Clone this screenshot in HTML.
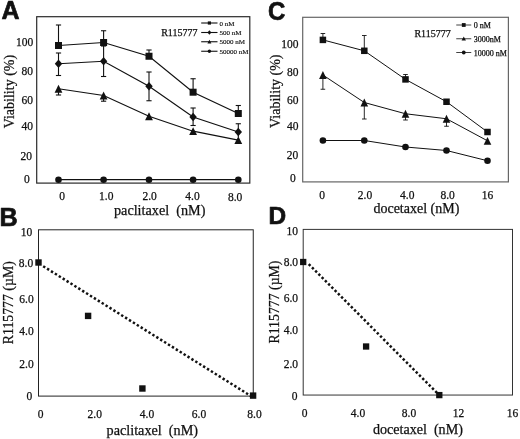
<!DOCTYPE html>
<html><head><meta charset="utf-8"><title>Figure</title>
<style>html,body{margin:0;padding:0;background:#fff;}svg{display:block;filter:blur(0.35px)}</style>
</head><body>
<svg width="520" height="439" viewBox="0 0 520 439">
<rect width="520" height="439" fill="#ffffff"/>
<rect x="36.7" y="16.7" width="213.10000000000002" height="166.4" fill="none" stroke="#2a2a2a" stroke-width="1.2"/>
<text xml:space="preserve" x="1.60" y="19.00" font-family='"Liberation Sans", "DejaVu Sans", sans-serif' font-size="25" font-weight="bold" text-anchor="start" fill="#111" stroke="#111" stroke-width="0.7" stroke-linejoin="round">A</text>
<text xml:space="preserve" x="33.20" y="45.80" font-family='"Liberation Serif", "DejaVu Serif", serif' font-size="11.5" font-weight="normal" text-anchor="end" fill="#111" stroke="#111" stroke-width="0.25">100</text>
<text xml:space="preserve" x="33.00" y="74.80" font-family='"Liberation Serif", "DejaVu Serif", serif' font-size="11.5" font-weight="normal" text-anchor="end" fill="#111" stroke="#111" stroke-width="0.25">80</text>
<text xml:space="preserve" x="33.00" y="103.59" font-family='"Liberation Serif", "DejaVu Serif", serif' font-size="11.5" font-weight="normal" text-anchor="end" fill="#111" stroke="#111" stroke-width="0.25">60</text>
<text xml:space="preserve" x="33.00" y="129.79" font-family='"Liberation Serif", "DejaVu Serif", serif' font-size="11.5" font-weight="normal" text-anchor="end" fill="#111" stroke="#111" stroke-width="0.25">40</text>
<text xml:space="preserve" x="32.10" y="159.69" font-family='"Liberation Serif", "DejaVu Serif", serif' font-size="11.5" font-weight="normal" text-anchor="end" fill="#111" stroke="#111" stroke-width="0.25">20</text>
<text xml:space="preserve" x="29.80" y="183.29" font-family='"Liberation Serif", "DejaVu Serif", serif' font-size="11.5" font-weight="normal" text-anchor="end" fill="#111" stroke="#111" stroke-width="0.25">0</text>
<text xml:space="preserve" x="62.00" y="200.29" font-family='"Liberation Serif", "DejaVu Serif", serif' font-size="11.5" font-weight="normal" text-anchor="middle" fill="#111" stroke="#111" stroke-width="0.25">0</text>
<text xml:space="preserve" x="106.30" y="200.09" font-family='"Liberation Serif", "DejaVu Serif", serif' font-size="11.5" font-weight="normal" text-anchor="middle" fill="#111" stroke="#111" stroke-width="0.25">1.0</text>
<text xml:space="preserve" x="149.60" y="200.09" font-family='"Liberation Serif", "DejaVu Serif", serif' font-size="11.5" font-weight="normal" text-anchor="middle" fill="#111" stroke="#111" stroke-width="0.25">2.0</text>
<text xml:space="preserve" x="192.50" y="200.09" font-family='"Liberation Serif", "DejaVu Serif", serif' font-size="11.5" font-weight="normal" text-anchor="middle" fill="#111" stroke="#111" stroke-width="0.25">4.0</text>
<text xml:space="preserve" x="235.10" y="200.79" font-family='"Liberation Serif", "DejaVu Serif", serif' font-size="11.5" font-weight="normal" text-anchor="middle" fill="#111" stroke="#111" stroke-width="0.25">8.0</text>
<text xml:space="preserve" x="159.70" y="214.70" font-family='"Liberation Serif", "DejaVu Serif", serif' font-size="14.2" font-weight="normal" text-anchor="middle" fill="#111" stroke="#111" stroke-width="0.25">paclitaxel  (nM)</text>
<text transform="translate(13.70,91.60) rotate(-90)" font-family='"Liberation Serif", "DejaVu Serif", serif' font-size="14" text-anchor="middle" fill="#111" stroke="#111" stroke-width="0.25" >Viability (%)</text>
<line x1="58.50" y1="25.00" x2="58.50" y2="45.50" stroke="#111" stroke-width="1.1"/>
<line x1="55.90" y1="25.00" x2="61.10" y2="25.00" stroke="#111" stroke-width="1.1"/>
<line x1="103.60" y1="30.75" x2="103.60" y2="42.50" stroke="#111" stroke-width="1.1"/>
<line x1="101.00" y1="30.75" x2="106.20" y2="30.75" stroke="#111" stroke-width="1.1"/>
<line x1="149.00" y1="50.00" x2="149.00" y2="56.00" stroke="#111" stroke-width="1.1"/>
<line x1="146.40" y1="50.00" x2="151.60" y2="50.00" stroke="#111" stroke-width="1.1"/>
<line x1="193.10" y1="78.75" x2="193.10" y2="92.00" stroke="#111" stroke-width="1.1"/>
<line x1="190.50" y1="78.75" x2="195.70" y2="78.75" stroke="#111" stroke-width="1.1"/>
<line x1="238.30" y1="105.50" x2="238.30" y2="113.00" stroke="#111" stroke-width="1.1"/>
<line x1="235.70" y1="105.50" x2="240.90" y2="105.50" stroke="#111" stroke-width="1.1"/>
<line x1="58.50" y1="53.00" x2="58.50" y2="75.50" stroke="#111" stroke-width="1.1"/>
<line x1="55.90" y1="53.00" x2="61.10" y2="53.00" stroke="#111" stroke-width="1.1"/>
<line x1="55.90" y1="75.50" x2="61.10" y2="75.50" stroke="#111" stroke-width="1.1"/>
<line x1="103.60" y1="46.00" x2="103.60" y2="76.50" stroke="#111" stroke-width="1.1"/>
<line x1="101.00" y1="46.00" x2="106.20" y2="46.00" stroke="#111" stroke-width="1.1"/>
<line x1="101.00" y1="76.50" x2="106.20" y2="76.50" stroke="#111" stroke-width="1.1"/>
<line x1="149.00" y1="72.00" x2="149.00" y2="100.75" stroke="#111" stroke-width="1.1"/>
<line x1="146.40" y1="72.00" x2="151.60" y2="72.00" stroke="#111" stroke-width="1.1"/>
<line x1="146.40" y1="100.75" x2="151.60" y2="100.75" stroke="#111" stroke-width="1.1"/>
<line x1="193.10" y1="108.00" x2="193.10" y2="125.50" stroke="#111" stroke-width="1.1"/>
<line x1="190.50" y1="108.00" x2="195.70" y2="108.00" stroke="#111" stroke-width="1.1"/>
<line x1="190.50" y1="125.50" x2="195.70" y2="125.50" stroke="#111" stroke-width="1.1"/>
<line x1="238.30" y1="123.75" x2="238.30" y2="137.00" stroke="#111" stroke-width="1.1"/>
<line x1="235.70" y1="123.75" x2="240.90" y2="123.75" stroke="#111" stroke-width="1.1"/>
<line x1="58.50" y1="88.00" x2="58.50" y2="95.00" stroke="#111" stroke-width="1.1"/>
<line x1="55.90" y1="95.00" x2="61.10" y2="95.00" stroke="#111" stroke-width="1.1"/>
<line x1="103.60" y1="95.00" x2="103.60" y2="101.20" stroke="#111" stroke-width="1.1"/>
<line x1="101.00" y1="101.20" x2="106.20" y2="101.20" stroke="#111" stroke-width="1.1"/>
<polyline points="58.50,45.50 103.60,42.50 149.00,56.25 193.10,92.20 238.30,113.50" fill="none" stroke="#111" stroke-width="1.2" />
<polyline points="58.50,63.75 103.60,61.25 149.00,86.25 193.10,117.00 238.30,132.00" fill="none" stroke="#111" stroke-width="1.2" />
<polyline points="58.50,88.75 103.60,95.50 149.00,116.25 193.10,131.20 238.30,140.20" fill="none" stroke="#111" stroke-width="1.2" />
<polyline points="58.50,179.70 103.60,179.70 149.00,179.70 193.10,179.70 238.30,179.70" fill="none" stroke="#111" stroke-width="1.2" />
<rect x="55.00" y="42.00" width="7" height="7" fill="#111"/>
<rect x="100.10" y="39.00" width="7" height="7" fill="#111"/>
<rect x="145.50" y="52.75" width="7" height="7" fill="#111"/>
<rect x="189.60" y="88.70" width="7" height="7" fill="#111"/>
<rect x="234.80" y="110.00" width="7" height="7" fill="#111"/>
<polygon points="58.50,59.55 62.20,63.75 58.50,67.95 54.80,63.75" fill="#111"/>
<polygon points="103.60,57.05 107.30,61.25 103.60,65.45 99.90,61.25" fill="#111"/>
<polygon points="149.00,82.05 152.70,86.25 149.00,90.45 145.30,86.25" fill="#111"/>
<polygon points="193.10,112.80 196.80,117.00 193.10,121.20 189.40,117.00" fill="#111"/>
<polygon points="238.30,127.80 242.00,132.00 238.30,136.20 234.60,132.00" fill="#111"/>
<polygon points="58.50,84.85 62.40,92.65 54.60,92.65" fill="#111"/>
<polygon points="103.60,91.60 107.50,99.40 99.70,99.40" fill="#111"/>
<polygon points="149.00,112.35 152.90,120.15 145.10,120.15" fill="#111"/>
<polygon points="193.10,127.30 197.00,135.10 189.20,135.10" fill="#111"/>
<polygon points="238.30,136.30 242.20,144.10 234.40,144.10" fill="#111"/>
<circle cx="58.50" cy="179.70" r="3.3" fill="#111"/>
<circle cx="103.60" cy="179.70" r="3.3" fill="#111"/>
<circle cx="149.00" cy="179.70" r="3.3" fill="#111"/>
<circle cx="193.10" cy="179.70" r="3.3" fill="#111"/>
<circle cx="238.30" cy="179.70" r="3.3" fill="#111"/>
<text xml:space="preserve" x="197.50" y="35.90" font-family='"Liberation Serif", "DejaVu Serif", serif' font-size="10" font-weight="normal" text-anchor="end" fill="#111" stroke="#111" stroke-width="0.25">R115777</text>
<polyline points="201.20,23.00 217.50,23.00" fill="none" stroke="#111" stroke-width="1.1" />
<rect x="207.80" y="21.40" width="3.2" height="3.2" fill="#111"/>
<text xml:space="preserve" x="219.40" y="25.70" font-family='"Liberation Serif", "DejaVu Serif", serif' font-size="7" font-weight="normal" text-anchor="start" fill="#111" stroke="#111" stroke-width="0.15">0 nM</text>
<polyline points="201.20,32.50 217.50,32.50" fill="none" stroke="#111" stroke-width="1.1" />
<polygon points="209.40,30.30 211.40,32.50 209.40,34.70 207.40,32.50" fill="#111"/>
<text xml:space="preserve" x="219.40" y="35.20" font-family='"Liberation Serif", "DejaVu Serif", serif' font-size="7" font-weight="normal" text-anchor="start" fill="#111" stroke="#111" stroke-width="0.15">500 nM</text>
<polyline points="201.20,41.75 217.50,41.75" fill="none" stroke="#111" stroke-width="1.1" />
<polygon points="209.40,39.65 211.40,43.45 207.40,43.45" fill="#111"/>
<text xml:space="preserve" x="219.40" y="44.45" font-family='"Liberation Serif", "DejaVu Serif", serif' font-size="7" font-weight="normal" text-anchor="start" fill="#111" stroke="#111" stroke-width="0.15">5000 nM</text>
<polyline points="201.20,51.25 217.50,51.25" fill="none" stroke="#111" stroke-width="1.1" />
<circle cx="209.40" cy="51.25" r="1.7" fill="#111"/>
<text xml:space="preserve" x="219.40" y="53.95" font-family='"Liberation Serif", "DejaVu Serif", serif' font-size="7" font-weight="normal" text-anchor="start" fill="#111" stroke="#111" stroke-width="0.15">50000 nM</text>
<rect x="302.7" y="17.3" width="205.7" height="164.6" fill="none" stroke="#666" stroke-width="1.2"/>
<g transform="translate(268.1,19.8) scale(0.93,1)">
<text xml:space="preserve" x="0.00" y="0.00" font-family='"Liberation Sans", "DejaVu Sans", sans-serif' font-size="25.8" font-weight="bold" text-anchor="start" fill="#111" stroke="#111" stroke-width="0.7" stroke-linejoin="round">C</text>
</g>
<text xml:space="preserve" x="298.60" y="48.40" font-family='"Liberation Serif", "DejaVu Serif", serif' font-size="11.5" font-weight="normal" text-anchor="end" fill="#111" stroke="#111" stroke-width="0.25">100</text>
<text xml:space="preserve" x="298.60" y="76.39" font-family='"Liberation Serif", "DejaVu Serif", serif' font-size="11.5" font-weight="normal" text-anchor="end" fill="#111" stroke="#111" stroke-width="0.25">80</text>
<text xml:space="preserve" x="298.60" y="104.30" font-family='"Liberation Serif", "DejaVu Serif", serif' font-size="11.5" font-weight="normal" text-anchor="end" fill="#111" stroke="#111" stroke-width="0.25">60</text>
<text xml:space="preserve" x="298.60" y="130.00" font-family='"Liberation Serif", "DejaVu Serif", serif' font-size="11.5" font-weight="normal" text-anchor="end" fill="#111" stroke="#111" stroke-width="0.25">40</text>
<text xml:space="preserve" x="298.20" y="158.99" font-family='"Liberation Serif", "DejaVu Serif", serif' font-size="11.5" font-weight="normal" text-anchor="end" fill="#111" stroke="#111" stroke-width="0.25">20</text>
<text xml:space="preserve" x="295.70" y="182.29" font-family='"Liberation Serif", "DejaVu Serif", serif' font-size="11.5" font-weight="normal" text-anchor="end" fill="#111" stroke="#111" stroke-width="0.25">0</text>
<text xml:space="preserve" x="322.00" y="198.79" font-family='"Liberation Serif", "DejaVu Serif", serif' font-size="11.5" font-weight="normal" text-anchor="middle" fill="#111" stroke="#111" stroke-width="0.25">0</text>
<text xml:space="preserve" x="365.00" y="198.79" font-family='"Liberation Serif", "DejaVu Serif", serif' font-size="11.5" font-weight="normal" text-anchor="middle" fill="#111" stroke="#111" stroke-width="0.25">2.0</text>
<text xml:space="preserve" x="407.20" y="198.79" font-family='"Liberation Serif", "DejaVu Serif", serif' font-size="11.5" font-weight="normal" text-anchor="middle" fill="#111" stroke="#111" stroke-width="0.25">4.0</text>
<text xml:space="preserve" x="447.60" y="198.79" font-family='"Liberation Serif", "DejaVu Serif", serif' font-size="11.5" font-weight="normal" text-anchor="middle" fill="#111" stroke="#111" stroke-width="0.25">8.0</text>
<text xml:space="preserve" x="487.50" y="198.79" font-family='"Liberation Serif", "DejaVu Serif", serif' font-size="11.5" font-weight="normal" text-anchor="middle" fill="#111" stroke="#111" stroke-width="0.25">16</text>
<text xml:space="preserve" x="416.40" y="212.70" font-family='"Liberation Serif", "DejaVu Serif", serif' font-size="14" font-weight="normal" text-anchor="middle" fill="#111" stroke="#111" stroke-width="0.25">docetaxel (nM)</text>
<text transform="translate(280.20,91.20) rotate(-90)" font-family='"Liberation Serif", "DejaVu Serif", serif' font-size="14" text-anchor="middle" fill="#111" stroke="#111" stroke-width="0.25" >Viability (%)</text>
<line x1="322.90" y1="33.50" x2="322.90" y2="39.50" stroke="#111" stroke-width="0.9"/>
<line x1="320.60" y1="33.50" x2="325.20" y2="33.50" stroke="#111" stroke-width="0.9"/>
<line x1="364.30" y1="35.50" x2="364.30" y2="50.75" stroke="#111" stroke-width="0.9"/>
<line x1="362.00" y1="35.50" x2="366.60" y2="35.50" stroke="#111" stroke-width="0.9"/>
<line x1="405.50" y1="74.50" x2="405.50" y2="79.50" stroke="#111" stroke-width="0.9"/>
<line x1="403.20" y1="74.50" x2="407.80" y2="74.50" stroke="#111" stroke-width="0.9"/>
<line x1="322.90" y1="75.00" x2="322.90" y2="89.25" stroke="#111" stroke-width="0.9"/>
<line x1="320.60" y1="89.25" x2="325.20" y2="89.25" stroke="#111" stroke-width="0.9"/>
<line x1="364.30" y1="102.00" x2="364.30" y2="119.00" stroke="#111" stroke-width="0.9"/>
<line x1="362.00" y1="119.00" x2="366.60" y2="119.00" stroke="#111" stroke-width="0.9"/>
<line x1="405.50" y1="113.00" x2="405.50" y2="120.00" stroke="#111" stroke-width="0.9"/>
<line x1="403.20" y1="120.00" x2="407.80" y2="120.00" stroke="#111" stroke-width="0.9"/>
<line x1="446.50" y1="118.00" x2="446.50" y2="126.25" stroke="#111" stroke-width="0.9"/>
<line x1="444.20" y1="126.25" x2="448.80" y2="126.25" stroke="#111" stroke-width="0.9"/>
<polyline points="322.90,39.90 364.30,50.80 405.50,79.40 446.50,101.75 487.50,132.00" fill="none" stroke="#111" stroke-width="1.0" />
<polyline points="322.90,75.00 364.30,102.50 405.50,113.75 446.50,118.75 487.50,140.80" fill="none" stroke="#111" stroke-width="1.0" />
<polyline points="322.90,140.50 364.30,140.50 405.50,147.00 446.50,150.50 487.50,160.75" fill="none" stroke="#111" stroke-width="1.0" />
<rect x="319.65" y="36.65" width="6.5" height="6.5" fill="#111"/>
<rect x="361.05" y="47.55" width="6.5" height="6.5" fill="#111"/>
<rect x="402.25" y="76.15" width="6.5" height="6.5" fill="#111"/>
<rect x="443.25" y="98.50" width="6.5" height="6.5" fill="#111"/>
<rect x="484.25" y="128.75" width="6.5" height="6.5" fill="#111"/>
<polygon points="322.90,71.10 326.70,78.90 319.10,78.90" fill="#111"/>
<polygon points="364.30,98.60 368.10,106.40 360.50,106.40" fill="#111"/>
<polygon points="405.50,109.85 409.30,117.65 401.70,117.65" fill="#111"/>
<polygon points="446.50,114.85 450.30,122.65 442.70,122.65" fill="#111"/>
<polygon points="487.50,136.90 491.30,144.70 483.70,144.70" fill="#111"/>
<circle cx="322.90" cy="140.50" r="3.3" fill="#111"/>
<circle cx="364.30" cy="140.50" r="3.3" fill="#111"/>
<circle cx="405.50" cy="147.00" r="3.3" fill="#111"/>
<circle cx="446.50" cy="150.50" r="3.3" fill="#111"/>
<circle cx="487.50" cy="160.75" r="3.3" fill="#111"/>
<text xml:space="preserve" x="450.75" y="36.65" font-family='"Liberation Serif", "DejaVu Serif", serif' font-size="10" font-weight="normal" text-anchor="end" fill="#111" stroke="#111" stroke-width="0.25">R115777</text>
<polyline points="456.25,25.00 471.25,25.00" fill="none" stroke="#111" stroke-width="0.8" />
<rect x="461.85" y="23.10" width="3.8" height="3.8" fill="#111"/>
<text xml:space="preserve" x="473.75" y="28.00" font-family='"Liberation Serif", "DejaVu Serif", serif' font-size="8" font-weight="normal" text-anchor="start" fill="#111" stroke="#111" stroke-width="0.25">0 nM</text>
<polyline points="456.25,38.75 471.25,38.75" fill="none" stroke="#111" stroke-width="0.8" />
<polygon points="463.75,36.55 465.95,40.55 461.55,40.55" fill="#111"/>
<text xml:space="preserve" x="473.75" y="41.75" font-family='"Liberation Serif", "DejaVu Serif", serif' font-size="8" font-weight="normal" text-anchor="start" fill="#111" stroke="#111" stroke-width="0.25">3000nM</text>
<polyline points="456.25,52.50 471.25,52.50" fill="none" stroke="#111" stroke-width="0.8" />
<circle cx="463.75" cy="52.50" r="1.9" fill="#111"/>
<text xml:space="preserve" x="473.75" y="55.50" font-family='"Liberation Serif", "DejaVu Serif", serif' font-size="8" font-weight="normal" text-anchor="start" fill="#111" stroke="#111" stroke-width="0.25">10000 nM</text>
<rect x="38.5" y="229.8" width="214.75" height="166.3" fill="none" stroke="#222" stroke-width="1.0"/>
<text xml:space="preserve" x="-0.60" y="226.00" font-family='"Liberation Sans", "DejaVu Sans", sans-serif' font-size="25.2" font-weight="bold" text-anchor="start" fill="#111" stroke="#111" stroke-width="0.7" stroke-linejoin="round">B</text>
<text xml:space="preserve" x="32.30" y="235.79" font-family='"Liberation Serif", "DejaVu Serif", serif' font-size="11.5" font-weight="normal" text-anchor="end" fill="#111" stroke="#111" stroke-width="0.25">10</text>
<text xml:space="preserve" x="33.20" y="267.30" font-family='"Liberation Serif", "DejaVu Serif", serif' font-size="11.5" font-weight="normal" text-anchor="end" fill="#111" stroke="#111" stroke-width="0.25">8.0</text>
<text xml:space="preserve" x="33.70" y="302.80" font-family='"Liberation Serif", "DejaVu Serif", serif' font-size="11.5" font-weight="normal" text-anchor="end" fill="#111" stroke="#111" stroke-width="0.25">6.0</text>
<text xml:space="preserve" x="33.70" y="334.80" font-family='"Liberation Serif", "DejaVu Serif", serif' font-size="11.5" font-weight="normal" text-anchor="end" fill="#111" stroke="#111" stroke-width="0.25">4.0</text>
<text xml:space="preserve" x="33.70" y="368.19" font-family='"Liberation Serif", "DejaVu Serif", serif' font-size="11.5" font-weight="normal" text-anchor="end" fill="#111" stroke="#111" stroke-width="0.25">2.0</text>
<text xml:space="preserve" x="32.20" y="399.80" font-family='"Liberation Serif", "DejaVu Serif", serif' font-size="11.5" font-weight="normal" text-anchor="end" fill="#111" stroke="#111" stroke-width="0.25">0</text>
<text xml:space="preserve" x="40.60" y="417.80" font-family='"Liberation Serif", "DejaVu Serif", serif' font-size="11.5" font-weight="normal" text-anchor="middle" fill="#111" stroke="#111" stroke-width="0.25">0</text>
<text xml:space="preserve" x="94.70" y="417.80" font-family='"Liberation Serif", "DejaVu Serif", serif' font-size="11.5" font-weight="normal" text-anchor="middle" fill="#111" stroke="#111" stroke-width="0.25">2.0</text>
<text xml:space="preserve" x="147.00" y="417.80" font-family='"Liberation Serif", "DejaVu Serif", serif' font-size="11.5" font-weight="normal" text-anchor="middle" fill="#111" stroke="#111" stroke-width="0.25">4.0</text>
<text xml:space="preserve" x="199.00" y="417.80" font-family='"Liberation Serif", "DejaVu Serif", serif' font-size="11.5" font-weight="normal" text-anchor="middle" fill="#111" stroke="#111" stroke-width="0.25">6.0</text>
<text xml:space="preserve" x="254.50" y="417.80" font-family='"Liberation Serif", "DejaVu Serif", serif' font-size="11.5" font-weight="normal" text-anchor="middle" fill="#111" stroke="#111" stroke-width="0.25">8.0</text>
<text xml:space="preserve" x="152.30" y="434.70" font-family='"Liberation Serif", "DejaVu Serif", serif' font-size="14.2" font-weight="normal" text-anchor="middle" fill="#111" stroke="#111" stroke-width="0.25">paclitaxel  (nM)</text>
<text transform="translate(12.50,302.70) rotate(-90)" font-family='"Liberation Serif", "DejaVu Serif", serif' font-size="13.8" text-anchor="middle" fill="#111" stroke="#111" stroke-width="0.25" >R115777 (µM)</text>
<polyline points="43.18,266.20 253.10,397.40" fill="none" stroke="#111" stroke-width="2.5" stroke-dasharray="2.4 2.2"/>
<rect x="35.30" y="259.30" width="6.4" height="6.4" fill="#111"/>
<rect x="84.90" y="312.70" width="6.4" height="6.4" fill="#111"/>
<rect x="139.20" y="385.30" width="6.4" height="6.4" fill="#111"/>
<rect x="249.90" y="392.40" width="6.4" height="6.4" fill="#111"/>
<rect x="303.2" y="229.4" width="209.3" height="165.65" fill="none" stroke="#333" stroke-width="1.0"/>
<text xml:space="preserve" x="268.60" y="223.50" font-family='"Liberation Sans", "DejaVu Sans", sans-serif' font-size="24.4" font-weight="bold" text-anchor="start" fill="#111" stroke="#111" stroke-width="0.7" stroke-linejoin="round">D</text>
<text xml:space="preserve" x="298.00" y="235.19" font-family='"Liberation Serif", "DejaVu Serif", serif' font-size="11.5" font-weight="normal" text-anchor="end" fill="#111" stroke="#111" stroke-width="0.25">10</text>
<text xml:space="preserve" x="298.00" y="266.30" font-family='"Liberation Serif", "DejaVu Serif", serif' font-size="11.5" font-weight="normal" text-anchor="end" fill="#111" stroke="#111" stroke-width="0.25">8.0</text>
<text xml:space="preserve" x="298.00" y="302.10" font-family='"Liberation Serif", "DejaVu Serif", serif' font-size="11.5" font-weight="normal" text-anchor="end" fill="#111" stroke="#111" stroke-width="0.25">6.0</text>
<text xml:space="preserve" x="298.00" y="334.19" font-family='"Liberation Serif", "DejaVu Serif", serif' font-size="11.5" font-weight="normal" text-anchor="end" fill="#111" stroke="#111" stroke-width="0.25">4.0</text>
<text xml:space="preserve" x="298.00" y="368.19" font-family='"Liberation Serif", "DejaVu Serif", serif' font-size="11.5" font-weight="normal" text-anchor="end" fill="#111" stroke="#111" stroke-width="0.25">2.0</text>
<text xml:space="preserve" x="297.50" y="399.50" font-family='"Liberation Serif", "DejaVu Serif", serif' font-size="11.5" font-weight="normal" text-anchor="end" fill="#111" stroke="#111" stroke-width="0.25">0</text>
<text xml:space="preserve" x="304.70" y="417.10" font-family='"Liberation Serif", "DejaVu Serif", serif' font-size="11.5" font-weight="normal" text-anchor="middle" fill="#111" stroke="#111" stroke-width="0.25">0</text>
<text xml:space="preserve" x="358.00" y="417.10" font-family='"Liberation Serif", "DejaVu Serif", serif' font-size="11.5" font-weight="normal" text-anchor="middle" fill="#111" stroke="#111" stroke-width="0.25">4.0</text>
<text xml:space="preserve" x="409.00" y="417.10" font-family='"Liberation Serif", "DejaVu Serif", serif' font-size="11.5" font-weight="normal" text-anchor="middle" fill="#111" stroke="#111" stroke-width="0.25">8.0</text>
<text xml:space="preserve" x="458.60" y="417.10" font-family='"Liberation Serif", "DejaVu Serif", serif' font-size="11.5" font-weight="normal" text-anchor="middle" fill="#111" stroke="#111" stroke-width="0.25">12</text>
<text xml:space="preserve" x="512.60" y="417.10" font-family='"Liberation Serif", "DejaVu Serif", serif' font-size="11.5" font-weight="normal" text-anchor="middle" fill="#111" stroke="#111" stroke-width="0.25">16</text>
<text xml:space="preserve" x="417.90" y="434.00" font-family='"Liberation Serif", "DejaVu Serif", serif' font-size="14.1" font-weight="normal" text-anchor="middle" fill="#111" stroke="#111" stroke-width="0.25">docetaxel  (nM)</text>
<text transform="translate(279.10,302.00) rotate(-90)" font-family='"Liberation Serif", "DejaVu Serif", serif' font-size="13.8" text-anchor="middle" fill="#111" stroke="#111" stroke-width="0.25" >R115777 (µM)</text>
<polyline points="308.75,264.07 439.30,395.20" fill="none" stroke="#111" stroke-width="2.5" stroke-dasharray="2.4 2.2"/>
<rect x="300.05" y="258.85" width="6.3" height="6.3" fill="#111"/>
<rect x="362.95" y="343.35" width="6.3" height="6.3" fill="#111"/>
<rect x="436.15" y="391.95" width="6.3" height="6.3" fill="#111"/>
</svg>
</body></html>
